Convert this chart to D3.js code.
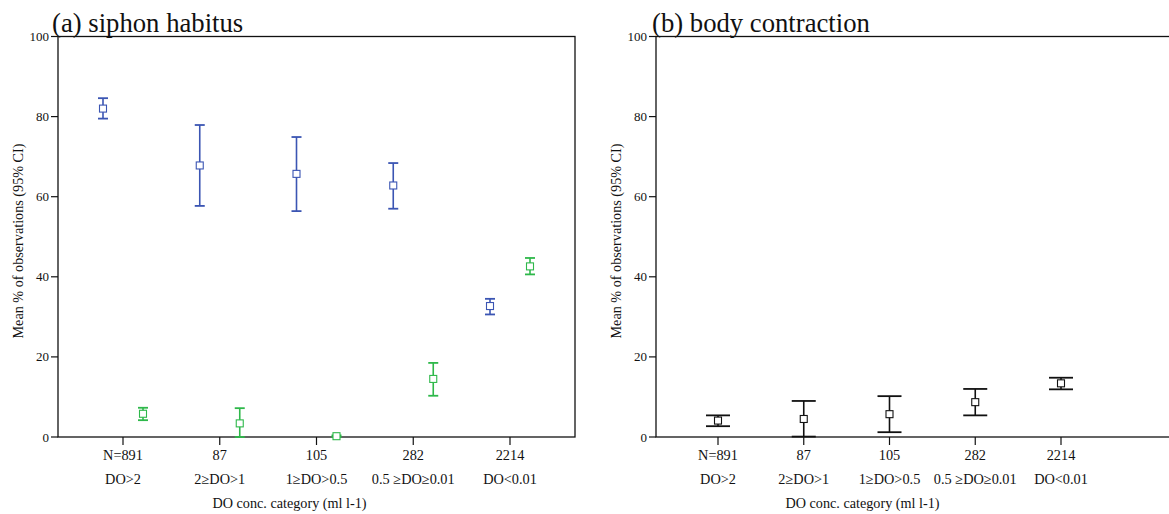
<!DOCTYPE html>
<html>
<head>
<meta charset="utf-8">
<script src="https://cdn.jsdelivr.net/npm/d3@7"></script>
<style>
body { margin: 0; background: #fff; }
</style>
</head>
<body>
<script>
// categories and tick labels
var nLabels = ["N=891", "87", "105", "282", "2214"];
var doLabels = ["DO>2", "2\u2265DO>1", "1\u2265DO>0.5", "0.5 \u2265DO\u22650.01", "DO<0.01"];
var yTicks = [0, 20, 40, 60, 80, 100];

// (a) siphon habitus, two series: mean, low, high (95% CI)
var siphonBlue = [
    {mean: 82.0, lo: 79.5, hi: 84.6},
    {mean: 67.8, lo: 57.7, hi: 77.9},
    {mean: 65.7, lo: 56.4, hi: 74.9},
    {mean: 62.8, lo: 57.0, hi: 68.4},
    {mean: 32.7, lo: 30.6, hi: 34.5}
];
var siphonGreen = [
    {mean: 5.8, lo: 4.2, hi: 7.3},
    {mean: 3.4, lo: 0.0, hi: 7.2},
    {mean: 0.2, lo: 0.0, hi: 0.4},
    {mean: 14.5, lo: 10.3, hi: 18.5},
    {mean: 42.6, lo: 40.6, hi: 44.7}
];

// (b) body contraction
var bodyBlack = [
    {mean: 4.1, lo: 2.7, hi: 5.4},
    {mean: 4.5, lo: 0.1, hi: 9.0},
    {mean: 5.7, lo: 1.2, hi: 10.2},
    {mean: 8.7, lo: 5.4, hi: 12.0},
    {mean: 13.4, lo: 11.9, hi: 14.8}
];

var svg = d3.select("body").append("svg")
    .attr("width", 1169)
    .attr("height", 514);

// text drawn big and scaled down, so the serif face is kept at small sizes
var BASE = 26;
function label(parent, x, y, size, txt, anchor, rot) {
    var t = parent.append("g")
        .attr("transform", "translate(" + x + "," + y + ")" + (rot ? " rotate(" + rot + ")" : "") +
            " scale(" + (size / BASE) + ")")
        .append("text")
        .style("font-family", "'Liberation Serif'")
        .style("font-size", BASE + "px")
        .attr("fill", "#111")
        .attr("text-anchor", anchor || "start")
        .text(txt);
    return t;
}

function panel(opt) {
    var g = svg.append("g");
    var x = d3.scalePoint().domain(d3.range(5)).range([opt.x0, opt.x1]);
    var y = d3.scaleLinear().domain([0, 100]).range([437, 36.5]);

    // frame
    g.append("rect")
        .attr("x", opt.left).attr("y", y(100))
        .attr("width", opt.right - opt.left).attr("height", y(0) - y(100))
        .attr("fill", "none").attr("stroke", "#111").attr("stroke-width", 1.3);

    // y axis
    g.selectAll(".yt").data(yTicks).enter().append("line")
        .attr("x1", opt.left - 7).attr("x2", opt.left)
        .attr("y1", function (d) { return y(d); })
        .attr("y2", function (d) { return y(d); })
        .attr("stroke", "#111").attr("stroke-width", 1.2);
    yTicks.forEach(function (d) {
        label(g, opt.left - 9, y(d) + 4.5, 13, d, "end");
    });

    // x axis
    g.selectAll(".xt").data(d3.range(5)).enter().append("line")
        .attr("x1", function (d) { return x(d); })
        .attr("x2", function (d) { return x(d); })
        .attr("y1", y(0)).attr("y2", y(0) + 8)
        .attr("stroke", "#111").attr("stroke-width", 1.2);
    nLabels.forEach(function (d, i) { label(g, x(i), 460, 14.3, d, "middle"); });
    doLabels.forEach(function (d, i) { label(g, x(i), 484, 14.3, d, "middle"); });

    label(g, (opt.x0 + opt.x1) / 2 - 27, 508, 14.2, "DO conc. category (ml l-1)", "middle");
    label(g, opt.ylabX, 241, 14.2, "Mean % of observations (95% CI)", "middle", -90);
    label(g, opt.titleX, 32, 26.7, opt.title);

    opt.series.forEach(function (s) {
        var sg = g.append("g");
        var cx = function (d, i) { return x(i) + s.dx; };
        sg.selectAll(".v").data(s.data).enter().append("line")
            .attr("x1", cx).attr("x2", cx)
            .attr("y1", function (d) { return y(d.lo); })
            .attr("y2", function (d) { return y(d.hi); })
            .attr("stroke", s.color).attr("stroke-width", 1.6);
        ["lo", "hi"].forEach(function (k) {
            sg.selectAll(".c" + k).data(s.data).enter().append("line")
                .attr("x1", function (d, i) { return cx(d, i) - s.cap; })
                .attr("x2", function (d, i) { return cx(d, i) + s.cap; })
                .attr("y1", function (d) { return y(d[k]); })
                .attr("y2", function (d) { return y(d[k]); })
                .attr("stroke", s.color).attr("stroke-width", 1.8);
        });
        sg.selectAll(".m").data(s.data).enter().append("rect")
            .attr("x", function (d, i) { return cx(d, i) - 3.5; })
            .attr("y", function (d) { return y(d.mean) - 3.5; })
            .attr("width", 7).attr("height", 7)
            .attr("fill", "#fff").attr("stroke", s.color).attr("stroke-width", 1.1);
    });
}

panel({
    left: 58, right: 575, x0: 123, x1: 510, ylabX: 23, titleX: 52,
    title: "(a) siphon habitus",
    series: [
        {data: siphonBlue, color: "#3b55b3", dx: -20, cap: 5},
        {data: siphonGreen, color: "#2eb84a", dx: 20, cap: 5}
    ]
});

panel({
    left: 656, right: 1180, x0: 718, x1: 1061, ylabX: 621, titleX: 652,
    title: "(b) body contraction",
    series: [
        {data: bodyBlack, color: "#111", dx: 0, cap: 12}
    ]
});
</script>
</body>
</html>
